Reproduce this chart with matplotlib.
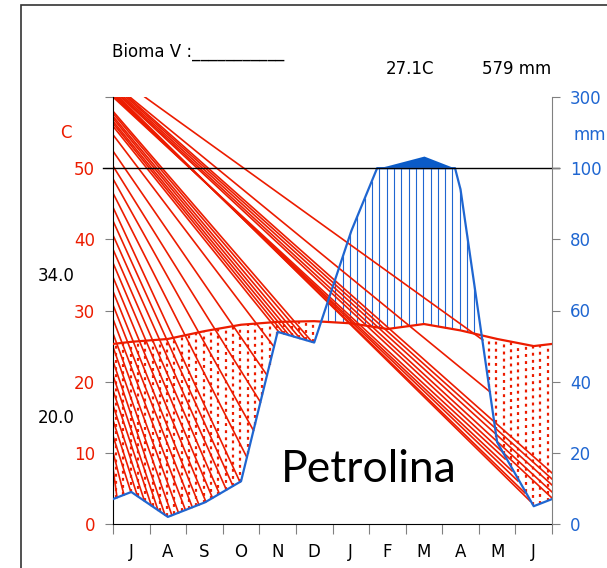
import numpy as np
import matplotlib.pyplot as plt
from matplotlib.patches import Rectangle

# monthly climate normals, July -> June
months = ['J', 'A', 'S', 'O', 'N', 'D', 'J', 'F', 'M', 'A', 'M', 'J']
temp_c = [25.6, 26.0, 27.1, 28.0, 28.4, 28.5, 28.2, 27.4, 28.1, 27.2, 26.0, 25.0]
precip_mm = [9, 2, 6, 12, 54, 51, 82, 107, 134, 94, 23, 5]

# red diagonal strokes: fan from the left axis down to the rain curve
fan_start_c = [54.7, 52.4, 50.3, 48.5, 46.5, 44.5, 42.6, 40.6, 38.6, 36.7, 34.7, 32.7,
               30.8, 28.8, 26.8, 24.9, 22.9, 20.9, 18.8, 16.7, 14.6, 12.4, 10.1, 7.9]
fan_end_month = [4.40, 4.21, 4.03, 3.84, 3.66, 3.47, 3.28, 3.10, 2.91, 2.72, 2.54, 2.35,
                 2.17, 1.98, 1.79, 1.61, 1.42, 1.23, 1.05, 0.86, 0.67, 0.49, 0.30, 0.11]
# second bundle from the left axis, ending on the N-D segment
band_start_c = [58.0, 57.7, 57.3, 57.0, 56.6, 56.3, 55.9]
band_end_month = [5.44, 5.28, 5.11, 4.95, 4.81, 4.67, 4.54]
# strokes from the top edge down to the lower right
top_start_month = [0.0, 0.04, 0.08, 0.12, 0.16, 0.21, 0.25, 0.30, 0.36, 0.41, 0.46, 0.87]
top_end_month = [10.72, 10.91, 11.07, 11.26, 11.40, 12, 12, 12, 12, 12, 10.31, 10.11]
top_end_c = [9.13, 7.45, 6.04, 4.36, 3.23, 3.65, 4.50, 5.48, 6.32, 7.17, 18.55, 25.85]

red = '#ec1c00'
blue = '#1f66d1'
gray = '#808080'

# month centres plus the two edges (mean of first and last month)
x_ext = np.concatenate([[0], np.arange(12) + 0.5, [12]])
t_ext = np.concatenate([[(temp_c[0] + temp_c[-1]) / 2], temp_c, [(temp_c[0] + temp_c[-1]) / 2]])
p_ext = np.concatenate([[(precip_mm[0] + precip_mm[-1]) / 2], precip_mm,
                        [(precip_mm[0] + precip_mm[-1]) / 2]])

xf = np.linspace(0, 12, 2401)
pf = np.interp(xf, x_ext, p_ext)

fig = plt.figure(figsize=(6.07, 5.68), dpi=100)
ax = fig.add_axes([113/607, 44/568, 439/607, 427/568])
ax.set_xlim(0, 12)
ax.set_ylim(0, 60)

# hatching of dry / humid periods
xg = 0.08 + 0.2 * np.arange(60)
pg = np.interp(xg, x_ext, p_ext)
tg = np.interp(xg, x_ext, t_ext)
dry = pg / 2 < tg
ax.vlines(xg[dry], pg[dry] / 2, tg[dry], colors=red, linestyles=(0, (1.3, 1.9)), lw=1.6, zorder=1)
ax.vlines(xg[~dry], tg[~dry], np.minimum(pg[~dry], 100) / 2, colors=blue, lw=0.8, zorder=1)

# diagonal strokes
for s, e in zip(fan_start_c, fan_end_month):
    ax.plot([0, e], [s, np.interp(e, x_ext, p_ext) / 2], color=red, lw=1.2, zorder=2)
for s, e in zip(band_start_c, band_end_month):
    ax.plot([0, e], [s, np.interp(e, x_ext, p_ext) / 2], color=red, lw=1.2, zorder=2)
for s, e, ec in zip(top_start_month, top_end_month, top_end_c):
    ax.plot([s, e], [60, ec], color=red, lw=1.2, zorder=2)

# rain above 100 mm (compressed scale)
ax.fill_between(xf, 50, 50 + (pf - 100) / 20, where=pf > 100, color='#0a5bc8', lw=0, zorder=3)

ax.plot(x_ext, t_ext, color=red, lw=1.6, zorder=4)
ax.plot(xf, np.minimum(pf, 100) / 2, color=blue, lw=1.6, zorder=5)
ax.axhline(50, xmin=-0.022, xmax=1.016, color='black', lw=1, clip_on=False, zorder=6)

# axes styling
for side in ['top', 'right']:
    ax.spines[side].set_visible(False)
ax.spines['left'].set_color('black')
ax.spines['bottom'].set_color('black')
ax.set_yticks(range(0, 61, 10))
ax.set_yticklabels(['0', '10', '20', '30', '40', '50', ''])
ax.tick_params(axis='y', direction='out', length=6, color=gray, labelcolor=red, labelsize=12, pad=7)
ax.set_xticks(range(13))
ax.set_xticklabels([])
ax.tick_params(axis='x', which='major', length=7, color=gray)
ax.set_xticks(np.arange(12) + 0.5, minor=True)
ax.set_xticklabels(months, minor=True)
ax.tick_params(axis='x', which='minor', length=0, labelsize=12, pad=14)

ax2 = ax.twinx()
ax2.set_ylim(0, 60)
ax2.set_yticks(range(0, 61, 10))
ax2.set_yticklabels(['0', '20', '40', '60', '80', '100', '300'])
ax2.tick_params(axis='y', direction='out', length=6, color=gray, labelcolor=blue, labelsize=12, pad=7)
for side in ['top', 'left', 'bottom']:
    ax2.spines[side].set_visible(False)
ax2.spines['right'].set_color(gray)

# annotations
fig.text(66/607, 1 - 133/568, 'C', color=red, fontsize=12, ha='center', va='center')
fig.text(590/607, 1 - 135/568, 'mm', color=blue, fontsize=12, ha='center', va='center')
fig.text(112/607, 1 - 52/568, 'Bioma V :___________', fontsize=12, ha='left', va='center')
fig.text(410/607, 1 - 69/568, '27.1C', fontsize=12, ha='center', va='center')
fig.text(517/607, 1 - 69/568, '579 mm', fontsize=12, ha='center', va='center')
fig.text(56/607, 1 - 276/568, '34.0', fontsize=12, ha='center', va='center')
fig.text(56/607, 1 - 418/568, '20.0', fontsize=12, ha='center', va='center')
fig.text(369/607, 1 - 470/568, 'Petrolina', fontsize=32, family='Lato', ha='center', va='center')

# outer frame
fig.patches.append(Rectangle((21/607, -0.1), 1.2, 1.1 - 5/568, transform=fig.transFigure,
                             fill=False, edgecolor='#333333', lw=1.2))

fig.savefig('out.png', dpi=100)
